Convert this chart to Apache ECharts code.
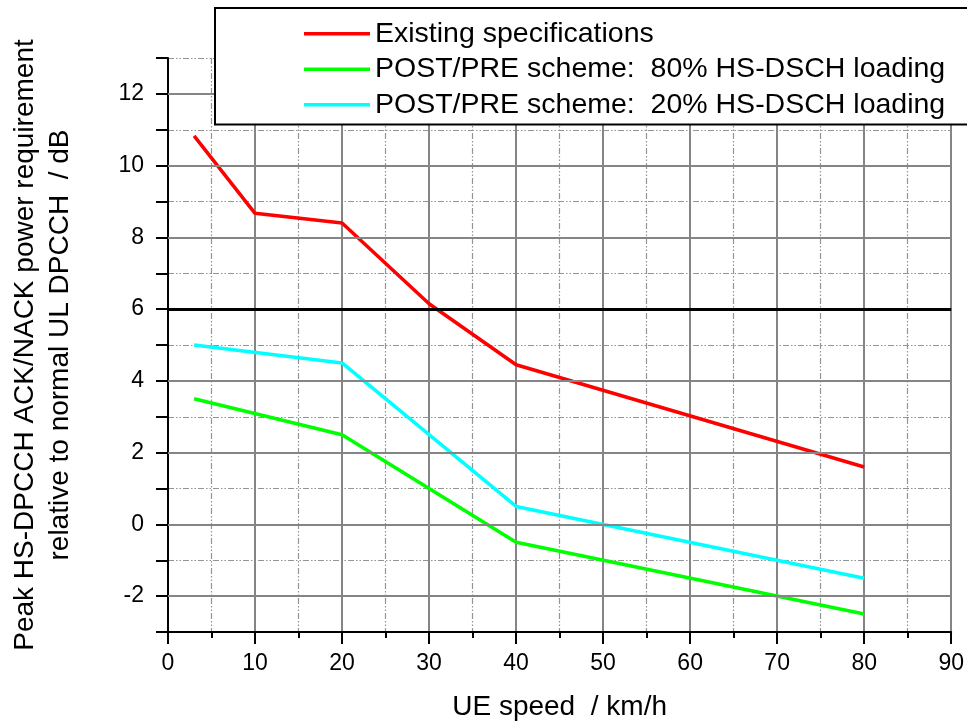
<!DOCTYPE html>
<html>
<head>
<meta charset="utf-8">
<script src="https://cdn.jsdelivr.net/npm/echarts@6/dist/echarts.min.js"></script>
<style>html,body{margin:0;padding:0;background:#fff;}#chart{width:967px;height:726px;}</style>
</head>
<body>
<div id="chart"></div>
<script>
// ---- data ----
const seriesNames = [
  'Existing specifications',
  'POST/PRE scheme:  80% HS-DSCH loading',
  'POST/PRE scheme:  20% HS-DSCH loading'
];
const redSpeed = [3, 10, 20, 30, 40, 80];
const redValue = [10.83, 8.67, 8.4, 6.15, 4.45, 1.6];
const greenSpeed = [3, 20, 40, 80];
const greenValue = [3.5, 2.5, -0.5, -2.5];
const cyanSpeed = [3, 20, 40, 80];
const cyanValue = [5.0, 4.5, 0.5, -1.5];
const yMajorGrid = [-2, 0, 2, 4, 6, 8, 10, 12];
const yLabelTicks = [-2, 0, 2, 4, 6, 8, 10, 12];
const thresholdLevel = 6;
const xTicks = [0, 10, 20, 30, 40, 50, 60, 70, 80, 90];

const FONT = '"Liberation Sans", Arial, sans-serif';
const pair = (xs, ys) => xs.map((x, i) => [x, ys[i]]);
const dashDot = [6, 2, 1.5, 2, 1.5, 2];

const chart = echarts.init(document.getElementById('chart'), null, {renderer: 'canvas'});
chart.setOption({
  animation: false,
  backgroundColor: '#ffffff',
  textStyle: {fontFamily: FONT},
  grid: {left: 167, right: 15, top: 58, bottom: 92, containLabel: false},
  legend: {
    data: seriesNames,
    orient: 'vertical',
    left: 215,
    top: 8,
    padding: [8, 60, 2, 89],
    itemGap: 0,
    itemWidth: 66,
    itemHeight: 3.5,
    icon: 'rect',
    backgroundColor: '#ffffff',
    borderColor: '#000000',
    borderWidth: 2,
    borderRadius: 0,
    z: 20,
    textStyle: {fontFamily: FONT, fontSize: 28.5, color: '#000', lineHeight: 35.5}
  },
  xAxis: {
    type: 'value',
    min: xTicks[0],
    max: xTicks[xTicks.length - 1],
    interval: 10,
    name: 'UE speed  / km/h',
    nameLocation: 'middle',
    nameGap: 61,
    nameTextStyle: {fontFamily: FONT, fontSize: 28, color: '#000'},
    axisLine: {show: true, onZero: false, lineStyle: {color: '#000', width: 2}},
    axisTick: {show: true, length: 12, inside: false, lineStyle: {color: '#000', width: 2}},
    minorTick: {show: true, splitNumber: 2, length: 6, lineStyle: {color: '#000', width: 2}},
    axisLabel: {fontFamily: FONT, fontSize: 23, color: '#000', margin: 20},
    splitLine: {show: true, lineStyle: {color: '#858585', width: 2, type: 'solid'}},
    minorSplitLine: {show: true, lineStyle: {color: '#949494', width: 1.2, type: dashDot}}
  },
  yAxis: {
    type: 'value',
    min: -3,
    max: 13,
    interval: 1,
    name: 'Peak HS-DPCCH ACK/NACK power requirement\nrelative to normal UL DPCCH  / dB',
    nameLocation: 'middle',
    nameRotate: 90,
    nameGap: 90,
    nameTextStyle: {fontFamily: FONT, fontSize: 28, color: '#000', lineHeight: 35, align: 'center'},
    axisLine: {show: true, onZero: false, lineStyle: {color: '#000', width: 2}},
    axisTick: {show: true, length: 12, inside: false, lineStyle: {color: '#000', width: 2}},
    axisLabel: {
      fontFamily: FONT, fontSize: 23, color: '#000', margin: 24,
      formatter: v => (yLabelTicks.indexOf(v) >= 0 ? String(v) : '')
    },
    splitLine: {show: true, lineStyle: {color: '#949494', width: 1.2, type: dashDot}}
  },
  series: [
    {
      name: '__grid',
      type: 'line',
      data: [],
      z: 1,
      silent: true,
      symbol: 'none',
      markLine: {
        silent: true,
        symbol: ['none', 'none'],
        label: {show: false},
        animation: false,
        data: yMajorGrid.map(v => ({
          yAxis: v,
          lineStyle: {color: '#858585', width: 2, type: 'solid'}
        })).concat([{
          yAxis: thresholdLevel,
          lineStyle: {color: '#000000', width: 3, type: 'solid'}
        }])
      }
    },
    {
      name: seriesNames[0], type: 'line', data: pair(redSpeed, redValue),
      symbol: 'none', z: 3, color: '#ff0000',
      lineStyle: {color: '#ff0000', width: 3.5}
    },
    {
      name: seriesNames[1], type: 'line', data: pair(greenSpeed, greenValue),
      symbol: 'none', z: 3, color: '#00ff00',
      lineStyle: {color: '#00ff00', width: 3.5}
    },
    {
      name: seriesNames[2], type: 'line', data: pair(cyanSpeed, cyanValue),
      symbol: 'none', z: 3, color: '#00ffff',
      lineStyle: {color: '#00ffff', width: 3.5}
    }
  ]
});
</script>
</body>
</html>
